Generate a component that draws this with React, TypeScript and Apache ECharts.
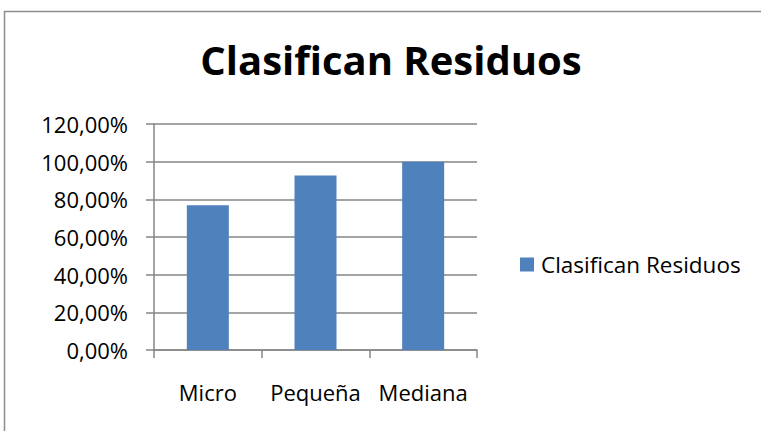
import React, { useEffect, useRef } from "react";
import * as echarts from "echarts";

const categories = ["Micro", "Pequeña", "Mediana"];
const values = [76.92, 92.59, 100];
const seriesName = "Clasifican Residuos";
const titleText = "Clasifican Residuos";

const FONT = "'Open Sans', sans-serif";

export default function App() {
  const ref = useRef<HTMLDivElement>(null);
  useEffect(() => {
    document.body.style.margin = "0";
    const chart = echarts.init(ref.current!, null, { renderer: "svg" });
    chart.setOption({
      animation: false,
      backgroundColor: "#ffffff",
      textStyle: { fontFamily: FONT },
      title: {
        text: titleText,
        left: 386,
        textAlign: "center",
        top: 34,
        textStyle: { fontFamily: FONT, fontWeight: "bold", fontSize: 40, color: "#000" },
      },
      legend: {
        data: [seriesName],
        left: 520,
        top: 253,
        padding: 0,
        icon: "rect",
        itemWidth: 14,
        itemHeight: 14,
        itemGap: 4,
        textStyle: { fontFamily: FONT, fontSize: 22.5, color: "#000", padding: [0, 0, 0, 2] },
      },
      grid: { left: 154, right: 284, top: 124, bottom: 81, containLabel: false },
      xAxis: {
        type: "category",
        data: categories,
        axisLine: { lineStyle: { color: "#868686", width: 1.5 } },
        axisTick: { show: true, length: 8, lineStyle: { color: "#868686", width: 1.5 } },
        axisLabel: { interval: 0, hideOverlap: false, margin: 31, fontFamily: FONT, fontSize: 22, color: "#000" },
      },
      yAxis: {
        type: "value",
        min: 0,
        max: 120,
        interval: 20,
        axisLine: { show: true, lineStyle: { color: "#868686", width: 1.5 } },
        axisTick: { show: true, length: 8, lineStyle: { color: "#868686", width: 1.5 } },
        splitLine: { lineStyle: { color: "#868686", width: 1.5 } },
        axisLabel: {
          margin: 26,
          fontFamily: FONT,
          fontSize: 22,
          color: "#000",
          formatter: (v: number) => v.toFixed(2).replace(".", ",") + "%",
        },
      },
      series: [
        {
          name: seriesName,
          type: "bar",
          data: values,
          barWidth: 42,
          itemStyle: { color: "#4F81BD" },
        },
      ],
      graphic: [
        {
          type: "rect",
          shape: { x: 4.5, y: 11.5, width: 800, height: 500 },
          style: { fill: "none", stroke: "#8c8c8c", lineWidth: 1.5 },
          silent: true,
        },
      ],
    });
    return () => chart.dispose();
  }, []);
  return <div ref={ref} style={{ width: 761, height: 431 }} />;
}
